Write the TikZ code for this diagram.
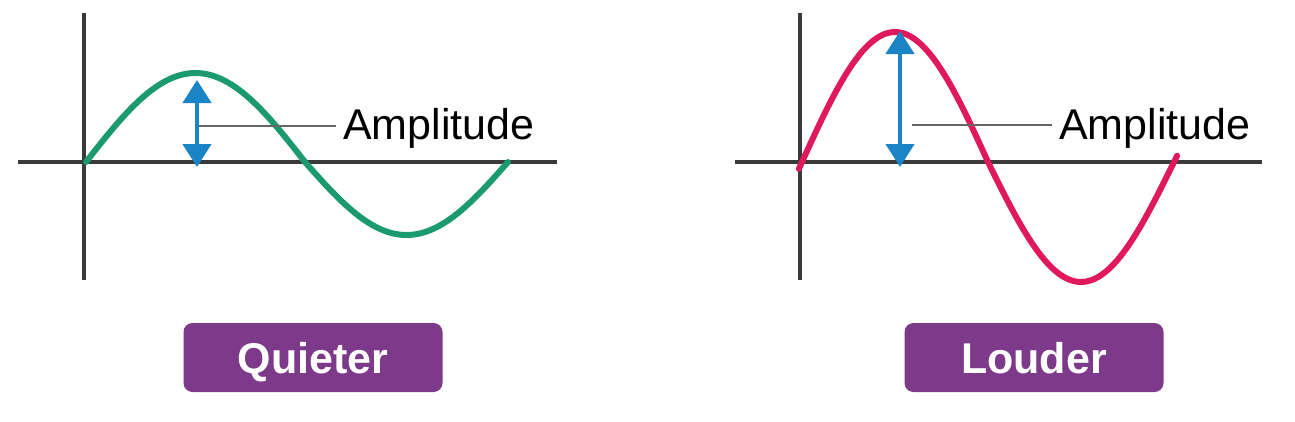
\documentclass[tikz,border=0pt]{standalone}
\usepackage{fontspec}
\setmainfont{Liberation Sans}
\usetikzlibrary{arrows.meta}
\definecolor{axisgray}{HTML}{3A3A3A}
\definecolor{wavegreen}{HTML}{1B9A6E}
\definecolor{wavepink}{HTML}{E0195F}
\definecolor{arrowblue}{HTML}{1B84C6}
\definecolor{boxpurple}{HTML}{7D3A8A}
\definecolor{leadgray}{HTML}{666666}
\begin{document}
\begin{tikzpicture}[x=1pt,y=-1pt,
  axisline/.style={draw=axisgray,line width=4pt},
  waveline/.style={line width=6pt,line cap=round},
  amparrow/.style={draw=arrowblue,line width=4.5pt,
    {Triangle[width=28pt,length=23pt]}-{Triangle[width=28pt,length=23pt]}},
  leader/.style={draw=leadgray,line width=1.5pt},
  amplabel/.style={font=\fontsize{43}{43}\selectfont,anchor=base west,inner sep=0pt,text=black},
  tagbox/.style={fill=boxpurple,rounded corners=9pt,minimum width=259pt,minimum height=69pt,
    text=white,font=\bfseries\fontsize{43}{43}\selectfont,inner sep=0pt,
    text height=31pt,text depth=0pt}]
\useasboundingbox[fill=white] (0,0) rectangle (1295,421);

% ---------- left panel (quieter) ----------
\coordinate (Lytop) at (84,13);
\coordinate (Lybot) at (84,280);
\coordinate (Lxl) at (18,162);
\coordinate (Lxr) at (557,162);
\draw[axisline] (Lytop) -- (Lybot);
\draw[axisline] (Lxl) -- (Lxr);
\draw[waveline,draw=wavegreen]
  plot[domain=0:180,samples=61] ({86+\x/180*(305-86)},{162-89*sin(\x)})
  -- plot[domain=180:360,samples=61] ({305+(\x-180)/180*(508-305)},{162-73*sin(\x)});
\coordinate (Latop) at (197,80);
\coordinate (Labot) at (197,167);
\draw[amparrow] (Labot) -- (Latop);
\coordinate (Llead) at (199,126);
\node[amplabel] (Lamp) at (343,139) {Amplitude};
\path (Lamp.west) ++(-7,0) coordinate (Lend);
\draw[leader] (Llead) -- (Llead -| Lend);
\node[tagbox] (quieter) at (313,357.5) {Quieter};

% ---------- right panel (louder) ----------
\coordinate (Rytop) at (800,13);
\coordinate (Rybot) at (800,280);
\coordinate (Rxl) at (735,162);
\coordinate (Rxr) at (1262,162);
\draw[axisline] (Rytop) -- (Rybot);
\draw[axisline] (Rxl) -- (Rxr);
\draw[waveline,draw=wavepink]
  plot[domain=-3:180,samples=61] ({802+\x/180*(988-802)},{162-130*sin(\x)})
  -- plot[domain=180:363,samples=61] ({988+(\x-180)/180*(1174-988)},{162-120*sin(\x)});
\coordinate (Ratop) at (900,31);
\coordinate (Rabot) at (900,167);
\draw[amparrow] (Rabot) -- (Ratop);
\coordinate (Rlead) at (912,125);
\node[amplabel] (Ramp) at (1059,139) {Amplitude};
\path (Ramp.west) ++(-7,0) coordinate (Rend);
\draw[leader] (Rlead) -- (Rlead -| Rend);
\node[tagbox] (louder) at (1034,357.5) {Louder};
\end{tikzpicture}
\end{document}
